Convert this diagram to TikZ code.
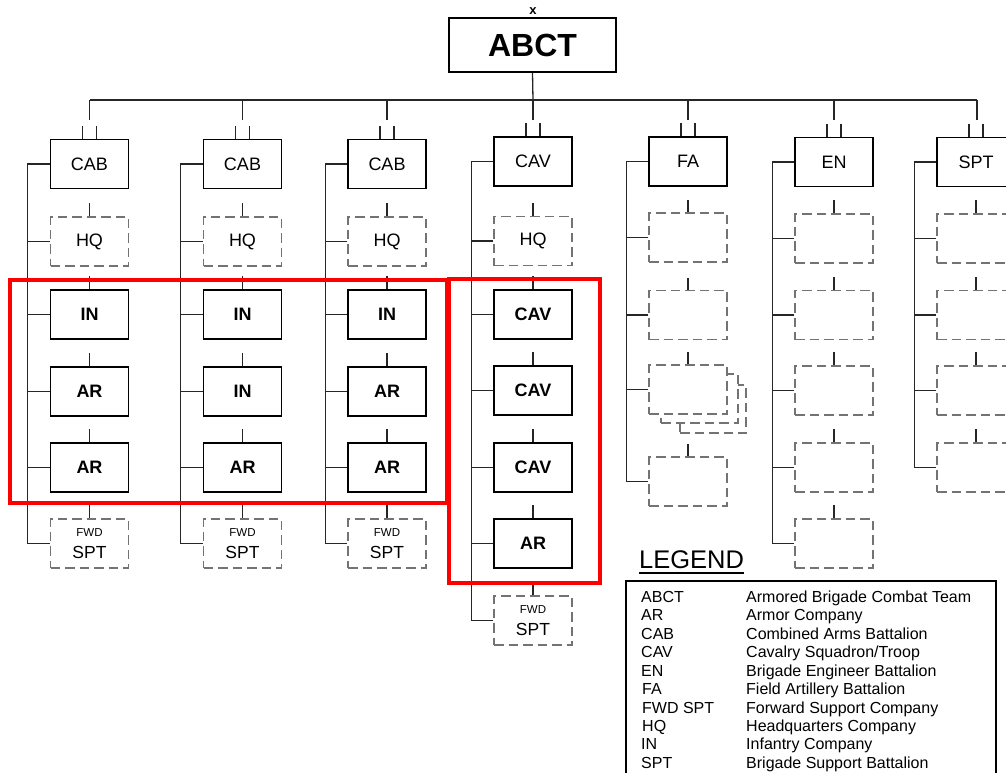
\documentclass[tikz,border=0pt]{standalone}
\usepackage{fontspec}
\setmainfont{Liberation Sans}
\newcommand\echmark[2]{%
  \coordinate (#1bus) at (#2,100);
  \coordinate (#1drop) at (#2,120);
  \draw[conn] (#1bus) -- (#1drop);
  \draw[conn] ([xshift=-7pt]#1.north) -- ++(0,-13);
  \draw[conn] ([xshift=7pt]#1.north) -- ++(0,-13);}
\newcommand\spineconn[3]{%
  \draw[conn] (#1.west) -- ++(-22,0) coordinate (#1sp) -- (#1sp |- #2.west) -- (#2.west);
  \foreach \m in {#3}{\draw[conn] (\m.west) -- (\m.west -| #1sp);}}
\begin{document}
\begin{tikzpicture}[x=1pt,y=-1pt,
  conn/.style={line width=1.3pt,draw=black!85},
  unit/.style={draw=black,line width=1.5pt,minimum width=78pt,minimum height=49pt,inner sep=0pt,font=\fontsize{18}{20}\selectfont,fill=white},
  boldunit/.style={unit,font=\fontsize{18}{20}\selectfont\bfseries},
  dashunit/.style={unit,draw=black!55,line width=1.3pt,dash pattern=on 9.5pt off 5pt},
  redbox/.style={draw=red,line width=4pt},
  lbl/.style={inner sep=0pt,anchor=base west,font=\fontsize{16}{18}\selectfont}]
\useasboundingbox (0,0) rectangle (1006,773);

% top
\node[unit,minimum width=167pt,minimum height=54pt,font=\fontsize{32}{34}\selectfont\bfseries] (abct) at (532.5,45) {ABCT};
\node[inner sep=0pt,font=\fontsize{13}{13}\selectfont\bfseries] (abctx) at (533,11) {x};

% CAB columns
\foreach \id/\cx/\a/\b/\c in {ca/89.5/IN/AR/AR, cb/242.5/IN/IN/AR, cc/387/IN/AR/AR}{
  \node[unit] (\id0) at (\cx,164) {CAB};
  \node[dashunit] (\id1) at (\cx,241.5) {HQ};
  \node[boldunit] (\id2) at (\cx,314.5) {\a};
  \node[boldunit] (\id3) at (\cx,391.5) {\b};
  \node[boldunit] (\id4) at (\cx,467.5) {\c};
  \node[dashunit] (\id5) at (\cx,543.5) {};
  \node[inner sep=0pt,font=\fontsize{11.5}{12}\selectfont] (\id5a) at ([yshift=10.5pt]\id5.center) {FWD};
  \node[inner sep=0pt,font=\fontsize{17.5}{18}\selectfont] (\id5b) at ([yshift=-8.5pt]\id5.center) {SPT};
  \echmark{\id0}{\cx}
  \foreach \k in {1,...,5}{\draw[conn] (\id\k.north) -- ++(0,-13);}
  \spineconn{\id0}{\id5}{\id1,\id2,\id3,\id4}
}

% CAV column
\node[unit] (cv0) at (533,161.5) {CAV};
\node[dashunit] (cv1) at (533,241) {HQ};
\node[boldunit] (cv2) at (533,314.5) {CAV};
\node[boldunit] (cv3) at (533,390.5) {CAV};
\node[boldunit] (cv4) at (533,467.5) {CAV};
\node[boldunit] (cv5) at (533,543.5) {AR};
\node[dashunit] (cv6) at (533,620.5) {};
\node[inner sep=0pt,font=\fontsize{11.5}{12}\selectfont] (cv6a) at ([yshift=10.5pt]cv6.center) {FWD};
\node[inner sep=0pt,font=\fontsize{17.5}{18}\selectfont] (cv6b) at ([yshift=-8.5pt]cv6.center) {SPT};
\echmark{cv0}{533}
\foreach \k in {1,...,6}{\draw[conn] (cv\k.north) -- ++(0,-13);}
\spineconn{cv0}{cv6}{cv1,cv2,cv3,cv4,cv5}

% FA column
\node[unit] (fa0) at (688,161.5) {FA};
\node[dashunit] (fa1) at (688,237.5) {};
\node[dashunit] (fa2) at (688,315) {};
\node[dashunit,minimum width=66pt,minimum height=48pt] (fas2) at (713,409) {};
\node[dashunit,minimum width=77pt] (fas1) at (699.5,398.5) {};
\node[dashunit] (fa3) at (688,389.5) {};
\node[dashunit] (fa4) at (688,481.5) {};
\echmark{fa0}{688}
\foreach \k in {1,...,4}{\draw[conn] (fa\k.north) -- ++(0,-12);}
\spineconn{fa0}{fa4}{fa1,fa2,fa3}

% EN column
\node[unit] (en0) at (834,162) {EN};
\foreach \k/\yy in {1/238.5,2/315,3/390.5,4/467.5,5/543.5}{
  \node[dashunit] (en\k) at (834,\yy) {};
  \draw[conn] (en\k.north) -- ++(0,-13);}
\echmark{en0}{834}
\spineconn{en0}{en5}{en1,en2,en3,en4}

% SPT column
\node[unit] (sp0) at (976,162) {SPT};
\foreach \k/\yy in {1/238.5,2/315,3/390.5,4/467.5}{
  \node[dashunit] (sp\k) at (976,\yy) {};
  \draw[conn] (sp\k.north) -- ++(0,-13);}
\echmark{sp0}{977}
\spineconn{sp0}{sp4}{sp1,sp2,sp3}

% bus
\draw[conn] (ca0bus) -- (sp0bus);
\draw[conn] (abct.south) -- (cv0bus);

% red highlight boxes
\draw[redbox] (10,280) rectangle (447,503);
\draw[redbox] (449,279) rectangle (600,583);

% legend
\node[inner sep=0pt,anchor=base west,font=\fontsize{25.5}{26}\selectfont] (leg) at (639,568) {LEGEND};
\draw[line width=1.5pt] ([yshift=-5pt]leg.base west) -- ([yshift=-5pt]leg.base east);
\draw[line width=1.8pt] (626,800) -- (626,581) -- (996,581) -- (996,800);
\node[lbl] (la0) at (641,602) {ABCT};      \node[lbl] (lb0) at (746,602) {Armored Brigade Combat Team};
\node[lbl] (la1) at (641,620) {AR};        \node[lbl] (lb1) at (746,620) {Armor Company};
\node[lbl] (la2) at (641,639) {CAB};       \node[lbl] (lb2) at (746,639) {Combined Arms Battalion};
\node[lbl] (la3) at (641,657) {CAV};       \node[lbl] (lb3) at (746,657) {Cavalry Squadron/Troop};
\node[lbl] (la4) at (641,676) {EN};        \node[lbl] (lb4) at (746,676) {Brigade Engineer Battalion};
\node[lbl] (la5) at (642,694) {FA};        \node[lbl] (lb5) at (746,694) {Field Artillery Battalion};
\node[lbl] (la6) at (642,713) {FWD SPT};   \node[lbl] (lb6) at (746,713) {Forward Support Company};
\node[lbl] (la7) at (642,731) {HQ};        \node[lbl] (lb7) at (746,731) {Headquarters Company};
\node[lbl] (la8) at (641,749) {IN};        \node[lbl] (lb8) at (746,749) {Infantry Company};
\node[lbl] (la9) at (641,768) {SPT};       \node[lbl] (lb9) at (746,768) {Brigade Support Battalion};
\end{tikzpicture}
\end{document}
